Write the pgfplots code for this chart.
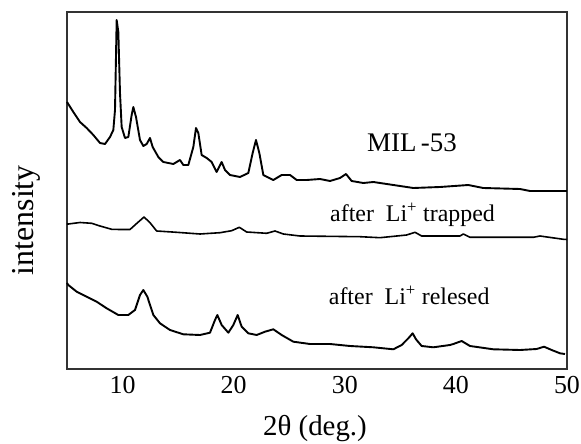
\documentclass[border=0pt]{standalone}
\usepackage{pgfplots}
\pgfplotsset{compat=1.18}
\usepackage{fontspec}
\setmainfont{Liberation Serif}
\begin{document}
\begin{tikzpicture}
\useasboundingbox (-67bp,-75bp) rectangle (514bp,369bp);
\begin{axis}[
  at={(0,0)}, anchor=south west,
  width=500bp, height=357bp, scale only axis,
  xmin=5, xmax=50, ymin=0, ymax=357,
  xtick={10,20,30,40,50}, ytick=\empty,
  major tick length=0pt,
  axis line style={draw=black!80, line width=1.2bp},
  /pgf/number format/assume math mode=true,
  xticklabel style={font=\fontsize{26}{30}\selectfont, inner sep=0pt, yshift=-7bp},
  xlabel={2θ (deg.)},
  xlabel style={font=\fontsize{29}{32}\selectfont, inner sep=0pt, at={(axis description cs:0.496,-0.168)}, anchor=center},
  ylabel={intensity},
  ylabel style={font=\fontsize{32}{36}\selectfont, at={(axis description cs:-0.082,0.417)}, anchor=center},
  clip=false,
]
% MIL-53
\addplot[black, line width=1.9bp, line join=round] coordinates {
(5.00,267)(5.57,257)(6.17,247)(6.77,241)(7.37,234)(7.97,226)(8.42,225)(8.87,232)
(9.17,239)(9.32,259)(9.47,349)(9.62,337)(9.77,276)(9.92,242)(10.22,231)(10.52,232)
(10.82,254)(10.97,262)(11.21,252)(11.57,229)(11.87,223)(12.17,225)(12.47,231)(12.71,222)
(13.22,212)(13.67,207)(14.57,205)(15.17,209)(15.47,204)(15.92,204)(16.37,222)(16.61,241)
(16.82,236)(17.12,214)(17.57,211)(18.02,207)(18.47,197)(18.92,207)(19.22,199)(19.67,194)
(20.57,192)(21.32,196)(21.71,216)(22.01,229)(22.31,216)(22.67,194)(23.57,189)(24.32,194)
(25.07,194)(25.67,189)(26.57,189)(27.77,190)(28.67,188)(29.57,191)(30.11,195)(30.62,188)
(31.67,186)(32.57,187)(34.37,184)(36.17,181)(38.57,182)(41.12,184)(42.47,181)(45.77,180)
(46.67,178)(49.67,178)(50,178)
};
% trapped
\addplot[black, line width=1.6bp, line join=round] coordinates {
(5,145)(5.12,145)(6.17,146.5)(7.22,145.7)(7.97,143)(9.02,139.7)(9.77,139.5)(10.67,139.5)
(11.27,145.5)(11.93,152)(12.47,146.3)(13.07,138)(14.87,136.7)(16.97,135)(18.77,136.3)
(19.82,138.3)(20.51,141.7)(21.17,137)(22.97,135.7)(23.72,138)(24.47,135)(25.97,133)
(31.37,132.3)(33.17,131.3)(35.57,134)(36.32,136.7)(36.92,133)(40.37,133)(40.67,135)
(41.27,131.7)(46.97,131.7)(47.57,133)(49.67,129.7)(50,129.5)
};
% released
\addplot[black, line width=1.9bp, line join=round] coordinates {
(5,86)(5.12,84)(5.87,77.3)(6.77,72.3)(7.67,67.3)(8.57,60.7)(9.62,54)(10.52,54)
(11.12,59)(11.57,74)(11.87,79)(12.23,72.3)(12.77,54)(13.37,45.7)(14.27,39)(15.47,34.7)
(16.97,34)(17.87,36.3)(18.32,49)(18.53,54)(18.92,44)(19.52,36.3)(19.97,44)(20.36,54)
(20.72,42.3)(21.32,35.7)(22.07,34)(22.82,37.3)(23.57,39.7)(24.32,34)(25.37,27.3)
(26.87,25)(28.67,25)(30.47,23)(32.57,21.7)(34.37,19.7)(35.12,24)(35.72,30.7)(36.11,35.7)
(36.41,29.7)(36.92,23)(37.97,21.7)(39.47,24)(39.77,25)(40.52,28)(41.27,23)(43.37,19.7)
(45.77,19)(47.27,20)(47.93,22.3)(48.62,19)(49.37,15.7)(49.82,15)
};
\node[font=\fontsize{27}{30}\selectfont] at (axis cs:36.05,226) {MIL\,-53};
\node[font=\fontsize{24}{27}\selectfont] at (axis cs:36.1,154) {after\ \ Li\textsuperscript{+}\ trapped};
\node[font=\fontsize{24}{27}\selectfont] at (axis cs:35.8,74) {after\ \ Li\textsuperscript{+}\ relesed};
\end{axis}
\end{tikzpicture}
\end{document}
